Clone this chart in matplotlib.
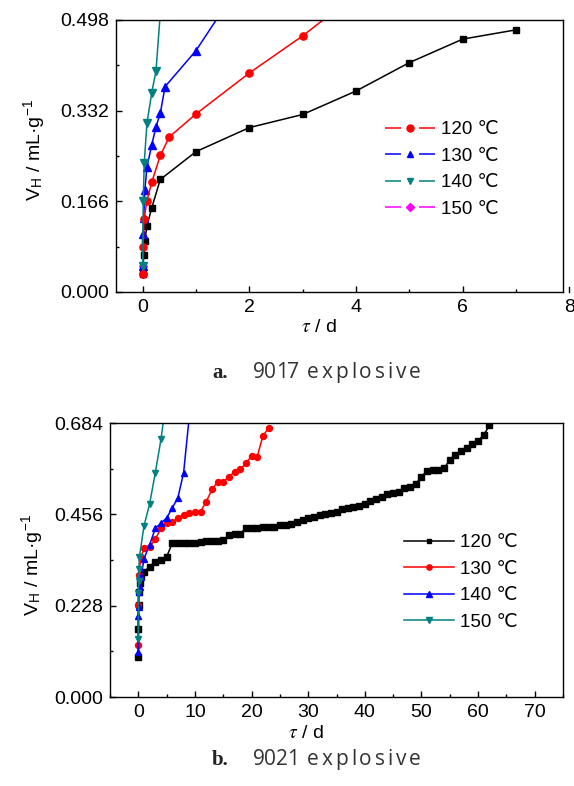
import matplotlib
matplotlib.use("Agg")
import matplotlib.pyplot as plt
from matplotlib.lines import Line2D
from matplotlib.ticker import MultipleLocator, FormatStrFormatter
import matplotlib.transforms as mtransforms

plt.rcParams['font.family'] = ['Liberation Sans', 'DejaVu Sans']
plt.rcParams['mathtext.fontset'] = 'stix'
plt.rcParams['lines.scale_dashes'] = False

# ---- 9017 explosive (a) ----
a_black_tau = [0, 0.02, 0.04, 0.08, 0.17, 0.33, 1, 2, 3, 4, 5, 6, 7]
a_black_v = [0.033, 0.068, 0.094, 0.121, 0.154, 0.206, 0.257, 0.301, 0.325, 0.368, 0.420, 0.463, 0.480]
a_red_tau = [0, 0.01, 0.025, 0.08, 0.17, 0.33, 0.5, 1, 2, 3, 4]
a_red_v = [0.033, 0.083, 0.133, 0.167, 0.201, 0.250, 0.284, 0.326, 0.401, 0.469, 0.545]
a_blue_tau = [0, 0.01, 0.02, 0.04, 0.08, 0.17, 0.25, 0.33, 0.42, 1, 2]
a_blue_v = [0.048, 0.106, 0.135, 0.186, 0.229, 0.269, 0.303, 0.327, 0.376, 0.442, 0.59]
a_teal_tau = [0, 0.01, 0.03, 0.08, 0.17, 0.25, 0.33]
a_teal_v = [0.048, 0.167, 0.237, 0.309, 0.365, 0.405, 0.51]
a_mag_tau = [0, 0.01]
a_mag_v = [0.033, 0.048]
a_labels = ['120 ℃', '130 ℃', '140 ℃', '150 ℃']

# ---- 9021 explosive (b) ----
b_black_tau = [0, 0.02, 0.04, 0.08, 0.25, 0.5,
               1, 2, 3, 4, 5, 6, 7, 8, 9, 10, 11, 12, 13, 14, 15, 16, 17, 18, 19, 20,
               21, 22, 23, 24, 25, 26, 27, 28, 29, 30, 31, 32, 33, 34, 35, 36, 37, 38, 39, 40,
               41, 42, 43, 44, 45, 46, 47, 48, 49, 50, 51, 52, 53, 54, 55, 56, 57, 58, 59, 60,
               61, 62, 63]
b_black_v = [0.099, 0.170, 0.230, 0.262, 0.284, 0.303,
             0.313, 0.325, 0.338, 0.342, 0.350, 0.384, 0.384, 0.384, 0.384, 0.384,
             0.386, 0.390, 0.390, 0.390, 0.391, 0.404, 0.406, 0.408, 0.421, 0.423,
             0.423, 0.424, 0.424, 0.425, 0.429, 0.430, 0.432, 0.438, 0.441, 0.446,
             0.450, 0.454, 0.457, 0.460, 0.463, 0.470, 0.473, 0.474, 0.476, 0.482,
             0.489, 0.494, 0.500, 0.506, 0.510, 0.512, 0.521, 0.525, 0.532, 0.550,
             0.565, 0.566, 0.567, 0.571, 0.592, 0.605, 0.615, 0.621, 0.632, 0.640,
             0.654, 0.678, 0.702]
b_red_tau = [0, 0.02, 0.04, 0.5, 1, 2, 3, 4, 5, 6, 7, 8, 9, 10, 11, 12, 13, 14, 15, 16,
             17, 18, 19, 20, 21, 22, 23]
b_red_v = [0.130, 0.230, 0.305, 0.350, 0.371, 0.375, 0.394, 0.421, 0.434, 0.438, 0.446,
           0.454, 0.460, 0.463, 0.463, 0.488, 0.518, 0.537, 0.537, 0.550, 0.562, 0.568,
           0.583, 0.602, 0.600, 0.652, 0.671]
b_blue_tau = [0, 0.02, 0.04, 0.08, 0.25, 0.5, 1, 2, 3, 4, 5, 6, 7, 8, 9]
b_blue_v = [0.113, 0.202, 0.225, 0.263, 0.275, 0.300, 0.345, 0.380, 0.421, 0.434, 0.447,
            0.472, 0.498, 0.560, 0.700]
b_teal_tau = [0, 0.02, 0.04, 0.08, 0.2, 1, 2, 3, 4, 5]
b_teal_v = [0.144, 0.260, 0.290, 0.319, 0.350, 0.427, 0.482, 0.560, 0.643, 0.750]
b_labels = ['120 ℃', '130 ℃', '140 ℃', '150 ℃']

RED, BLUE, TEAL, MAG = '#ff0000', '#0000ff', '#008080', '#ff00ff'
W, H = 574, 786

fig = plt.figure(figsize=(W / 100, H / 100), dpi=100)
renderer = fig.canvas.get_renderer()


def px_axes(l, t, r, b):
    return fig.add_axes([l / W, 1 - b / H, (r - l) / W, (b - t) / H])


def style_axes(ax):
    for s in ax.spines.values():
        s.set_linewidth(1.0)
    ax.tick_params(which='both', direction='in', top=False, right=False,
                   labelsize=14, width=1.0)
    ax.tick_params(which='major', length=4.5, pad=5)
    ax.tick_params(which='minor', length=2.5)


def spaced_word(x0, x1, y, word, **kw):
    # lay the letters out one by one so the word fills x0..x1 (pixels)
    pieces = []
    for ch in word:
        t = fig.text(0, 0, ch, ha='left', va='baseline', **kw)
        pieces.append((t, t.get_window_extent(renderer).width))
    gap = ((x1 - x0) - sum(w for _, w in pieces)) / max(len(pieces) - 1, 1)
    x = x0
    for t, w in pieces:
        t.set_position((x / W, 1 - y / H))
        x += w + gap


def caption(y, tag, number):
    fig.text(212 / W, 1 - y / H, tag, ha='left', va='baseline', fontsize=15,
             family='Liberation Serif', weight='bold', color='#222222')
    style = dict(fontsize=15, family='Open Sans', color='#333333')
    spaced_word(253, 299, y, number, **style)
    spaced_word(307, 421, y, 'explosive', **style)


# panel a
ax1 = px_axes(116, 20, 563, 292)
ax1.plot(a_mag_tau, a_mag_v, color=MAG, marker='D', ms=4, lw=1.1)
ax1.plot(a_black_tau, a_black_v, color='black', marker='s', ms=4.6, lw=1.1)
ax1.plot(a_blue_tau, a_blue_v, color=BLUE, marker='^', ms=5.2, lw=1.1)
ax1.plot(a_red_tau, a_red_v, color=RED, marker='o', ms=5.2, lw=1.1)
ax1.plot(a_teal_tau, a_teal_v, color=TEAL, marker='v', ms=5.2, lw=1.1)
ax1.set_xlim(-0.5, 7.88)
ax1.set_ylim(0, 0.498)
ax1.xaxis.set_major_locator(MultipleLocator(2))
ax1.xaxis.set_minor_locator(MultipleLocator(1))
ax1.set_yticks([0, 0.166, 0.332, 0.498])
ax1.yaxis.set_minor_locator(MultipleLocator(0.083))
ax1.yaxis.set_major_formatter(FormatStrFormatter('%.3f'))
style_axes(ax1)
# last tick sits just past the right spine
trans = mtransforms.blended_transform_factory(ax1.transData, ax1.transAxes)
ax1.plot([8, 8], [0, 0.02], color='black', lw=1.0, transform=trans, clip_on=False)
ax1.annotate('8', xy=(8, 0), xycoords=trans, xytext=(0, -5), textcoords='offset points',
             ha='center', va='top', fontsize=14, annotation_clip=False)

gap_ls = (0, (11.5, 13, 11.5, 60))
a_handles = [
    Line2D([], [], color=RED, marker='o', ms=5, ls=gap_ls, lw=1.1),
    Line2D([], [], color=BLUE, marker='^', ms=5, ls=gap_ls, lw=1.1),
    Line2D([], [], color=TEAL, marker='v', ms=5, ls=gap_ls, lw=1.1),
    Line2D([], [], color=MAG, marker='D', ms=4, ls=gap_ls, lw=1.1),
]
fig.legend(a_handles, a_labels, loc='upper left', bbox_to_anchor=(385 / W, 1 - 121 / H),
           frameon=False, fontsize=13.5, handlelength=2.67, handletextpad=0.3,
           labelspacing=0.5, borderpad=0, borderaxespad=0)

fig.text(35 / W, 1 - 150 / H, r'V$_\mathregular{H}$ / mL·g$^\mathregular{-1}$',
         rotation=90, ha='center', va='center', fontsize=14)
fig.text(319 / W, 1 - 328 / H, r'$\tau$ / d', ha='center', va='center', fontsize=14)
caption(378, 'a.', '9017')

# panel b
ax2 = px_axes(110, 423, 563, 697)
ax2.plot(b_black_tau, b_black_v, color='black', marker='s', ms=3.8, lw=1.1)
ax2.plot(b_red_tau, b_red_v, color=RED, marker='o', ms=4.3, lw=1.1)
ax2.plot(b_blue_tau, b_blue_v, color=BLUE, marker='^', ms=4.3, lw=1.1)
ax2.plot(b_teal_tau, b_teal_v, color=TEAL, marker='v', ms=4.3, lw=1.1)
ax2.set_xlim(-5, 75)
ax2.set_ylim(0, 0.684)
ax2.xaxis.set_major_locator(MultipleLocator(10))
ax2.xaxis.set_minor_locator(MultipleLocator(5))
ax2.set_yticks([0, 0.228, 0.456, 0.684])
ax2.yaxis.set_minor_locator(MultipleLocator(0.114))
ax2.yaxis.set_major_formatter(FormatStrFormatter('%.3f'))
style_axes(ax2)

b_handles = [
    Line2D([], [], color='black', marker='s', ms=3.5, lw=1.1),
    Line2D([], [], color=RED, marker='o', ms=3.8, lw=1.1),
    Line2D([], [], color=BLUE, marker='^', ms=3.8, lw=1.1),
    Line2D([], [], color=TEAL, marker='v', ms=3.8, lw=1.1),
]
fig.legend(b_handles, b_labels, loc='upper left', bbox_to_anchor=(404 / W, 1 - 534 / H),
           frameon=False, fontsize=13.5, handlelength=2.67, handletextpad=0.3,
           labelspacing=0.5, borderpad=0, borderaxespad=0)

fig.text(33 / W, 1 - 565 / H, r'V$_\mathregular{H}$ / mL·g$^\mathregular{-1}$',
         rotation=90, ha='center', va='center', fontsize=14)
fig.text(306 / W, 1 - 733 / H, r'$\tau$ / d', ha='center', va='center', fontsize=14)
caption(765, 'b.', '9021')

fig.savefig('out.png', dpi=100)
